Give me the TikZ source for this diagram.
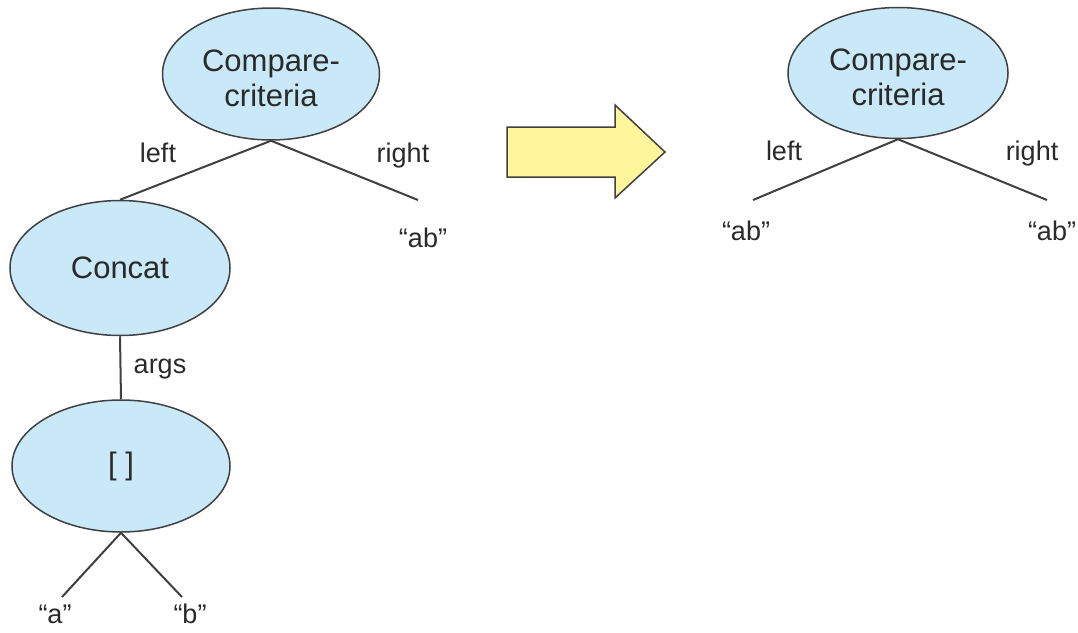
\documentclass[tikz,border=0pt]{standalone}
\usepackage{fontspec}
\setmainfont{Liberation Sans}
\usetikzlibrary{shapes.geometric}
\definecolor{ellfill}{HTML}{C9E8F8}
\definecolor{edgecol}{HTML}{404040}
\definecolor{arrfill}{HTML}{FFF59B}
\definecolor{txtcol}{HTML}{2A2A2A}
\tikzset{
  ell/.style={ellipse, draw=edgecol, fill=ellfill, line width=1.5pt, inner sep=0pt,
    align=center, text=txtcol, font=\fontsize{31}{35}\selectfont},
  lbl/.style={anchor=base, inner sep=0pt, text=txtcol, font=\fontsize{27}{32}\selectfont},
  conn/.style={draw=edgecol, line width=2pt},
}
\begin{document}
\begin{tikzpicture}[x=1pt,y=-1pt]
\useasboundingbox (0,0) rectangle (1078,632);
% left tree
\node[ell, minimum width=217pt, minimum height=132pt] (ct) at (271,74) {\rule{0pt}{30pt}Compare-\\criteria};
\node[ell, minimum width=220pt, minimum height=135pt] (concat) at (120,268) {Concat};
\node[ell, minimum width=218pt, minimum height=132pt] (arr) at (121,466) {[ ]};
\coordinate (rEnd) at (418,200);
\coordinate (aEnd) at (62,597);
\coordinate (bEnd) at (182,597);
\draw[conn] (ct.south) -- (concat.north);
\draw[conn] (ct.south) -- (rEnd);
\draw[conn] (concat.south) -- (arr.north);
\draw[conn] (arr.south) -- (aEnd);
\draw[conn] (arr.south) -- (bEnd);
\node[lbl] (lleft) at (158,162) {left};
\node[lbl] (lright) at (403,162) {right};
\node[lbl] (lab) at (423,247) {“ab”};
\node[lbl] (largs) at (160,373) {args};
\node[lbl] (la) at (55,623) {“a”};
\node[lbl] (lb) at (190,623) {“b”};
% transform arrow
\draw[draw=edgecol, fill=arrfill, line width=1.5pt, line join=miter]
  (507,127) -- (615,127) -- (615,105) -- (665,152) -- (615,198) -- (615,177) -- (507,177) -- cycle;
% right tree
\node[ell, minimum width=220pt, minimum height=131pt] (ct2) at (898,73) {\rule{0pt}{30pt}Compare-\\criteria};
\coordinate (lEnd2) at (753,200);
\coordinate (rEnd2) at (1047,200);
\draw[conn] (ct2.south) -- (lEnd2);
\draw[conn] (ct2.south) -- (rEnd2);
\node[lbl] (lleft2) at (784,160) {left};
\node[lbl] (lright2) at (1032,160) {right};
\node[lbl] (lab2) at (746,240) {“ab”};
\node[lbl] (lab3) at (1052,240) {“ab”};
\end{tikzpicture}
\end{document}
